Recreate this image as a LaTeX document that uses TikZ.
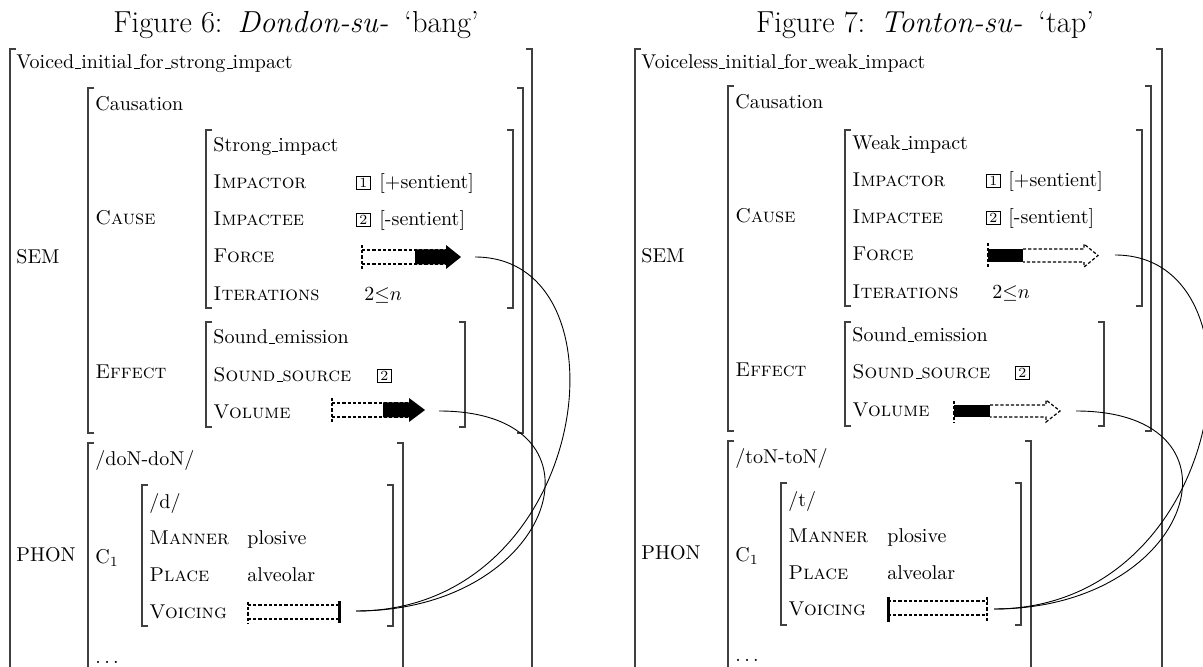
\documentclass[tikz,border=0pt]{standalone}
\newcommand\avmL[3]{\draw[brk] (#1+6,#2) -- (#1,#2) -- (#1,#3) -- (#1+6,#3);}
\newcommand\avmR[3]{\draw[brk] (#1-6,#2) -- (#1,#2) -- (#1,#3) -- (#1-6,#3);}
\newcommand\us{\leavevmode\kern.06em\vbox{\hrule width.3em}}
\newcommand\ttlfont{\fontsize{15.2}{18}\selectfont}
\begin{document}
\begin{tikzpicture}[x=0.5pt,y=-0.5pt,
  txt/.style={anchor=base west,inner sep=0pt,yshift=-3pt},
  ttl/.style={anchor=base,inner sep=0pt,font=\ttlfont},
  brk/.style={line width=0.65pt,draw=black!75},
  num/.style={draw,anchor=west,inner xsep=1.5pt,inner ysep=1pt,font=\scriptsize,line width=0.4pt},
  dsh/.style={dash pattern=on 1.6pt off 1pt,line width=0.6pt},
  bar/.style={line width=1.5pt},
  link/.style={line width=0.45pt}]
\useasboundingbox (0,0) rectangle (1203,667);
\clip (0,0) rectangle (1203,667);

% ================= Figure 6 =================
\node[ttl] (t6) at (296,33) {Figure 6:\hspace{7.5pt}\textit{Dondon-su-\/}\hspace{8pt}‘bang’};
\avmL{10}{49}{690} \avmR{532}{49}{690}
\node[txt] (top6) at (16,63) {Voiced\us initial\us for\us strong\us impact};
\avmL{88}{88}{433} \avmR{523}{88}{433}
\node[txt] (sem6) at (16,258) {SEM};
\node[txt] (caus6) at (95,105) {Causation};
\node[txt] (cause6) at (95,219) {\textsc{Cause}};
\avmL{206}{130}{308} \avmR{513}{130}{308}
\node[txt] (si6) at (213,146) {Strong\us impact};
\node[txt] (ir6) at (213,183) {\textsc{Impactor}};
\node[txt] (ie6) at (213,220) {\textsc{Impactee}};
\node[txt] (fo6) at (213,257) {\textsc{Force}};
\node[txt] (it6) at (213,295) {\textsc{Iterations}};
\node[num] (b16) at (356,183) {1};
\node[txt] (ps6) at (379,183) {[+sentient]};
\node[num] (b26) at (356,220) {2};
\node[txt] (ns6) at (379,220) {[-sentient]};
\node[txt] (n6) at (364,295) {$2{\leq}n$};
% force arrow (strong)
\draw[dsh] (362,245) -- (362,270);
\draw[dsh] (362,250) -- (446,250) (362,264) -- (446,264);
\fill (415,249.5) -- (446,249.5) -- (446,245) -- (461,257) -- (446,269) -- (446,264.5) -- (415,264.5) -- cycle;
\node[txt] (eff6) at (95,373) {\textsc{Effect}};
\avmL{206}{322}{427} \avmR{465}{322}{427}
\node[txt] (se6) at (213,338) {Sound\us emission};
\node[txt] (ss6) at (213,376) {\textsc{Sound\us source}};
\node[num] (b36) at (377,376) {2};
\node[txt] (vo6) at (213,413) {\textsc{Volume}};
% volume arrow (strong)
\draw[dsh] (332,398) -- (332,422);
\draw[dsh] (332,403) -- (409,403) (332,417) -- (409,417);
\fill (383,402.5) -- (409,402.5) -- (409,398) -- (425,410) -- (409,422) -- (409,417.5) -- (383,417.5) -- cycle;
\avmL{88}{443}{690} \avmR{403}{443}{690}
\node[txt] (ph6) at (16,555) {PHON};
\node[txt] (dn6) at (95,460) {/doN-doN/};
\node[txt] (c16) at (95,557) {C$_1$};
\node[txt] (dt6) at (95,657) {$\ldots$};
\avmL{142}{485}{626} \avmR{393}{485}{626}
\node[txt] (d6) at (149,502) {/d/};
\node[txt] (ma6) at (149,538) {\textsc{Manner}};
\node[txt] (pl6) at (149,575) {\textsc{Place}};
\node[txt] (vc6) at (149,612) {\textsc{Voicing}};
\node[txt] (pv6) at (247,538) {plosive};
\node[txt] (al6) at (247,575) {alveolar};
% voicing (voiced)
\draw[dsh] (248,602) -- (248,623);
\draw[dsh] (248,605) -- (339,605) (248,619) -- (339,619);
\draw[bar] (339,601) -- (339,623);
% links
\coordinate (f6) at (475,257);
\coordinate (v6) at (439,411);
\coordinate (p6) at (356,611);
\draw[link] (f6) .. controls +(160,0) and +(235,0) .. (p6);
\draw[link] (v6) .. controls +(180,0) and +(200,0) .. (p6);

% ================= Figure 7 =================
\node[ttl] (t7) at (925,33) {Figure 7:\hspace{7.5pt}\textit{Tonton-su-\/}\hspace{8pt}‘tap’};
\avmL{635}{49}{690} \avmR{1162}{49}{690}
\node[txt] (top7) at (641,63) {Voiceless\us initial\us for\us weak\us impact};
\avmL{728}{86}{431} \avmR{1151}{86}{431}
\node[txt] (sem7) at (641,257) {SEM};
\node[txt] (caus7) at (735,103) {Causation};
\node[txt] (cause7) at (735,217) {\textsc{Cause}};
\avmL{845}{130}{306} \avmR{1142}{130}{306}
\node[txt] (wi7) at (852,144) {Weak\us impact};
\node[txt] (ir7) at (852,181) {\textsc{Impactor}};
\node[txt] (ie7) at (852,218) {\textsc{Impactee}};
\node[txt] (fo7) at (852,255) {\textsc{Force}};
\node[txt] (it7) at (852,293) {\textsc{Iterations}};
\node[num] (b17) at (986,181) {1};
\node[txt] (ps7) at (1008,181) {[+sentient]};
\node[num] (b27) at (986,218) {2};
\node[txt] (ns7) at (1008,218) {[-sentient]};
\node[txt] (n7) at (992,293) {$2{\leq}n$};
% force arrow (weak)
\draw[dsh] (988,243) -- (988,268);
\fill (988,249) rectangle (1023,262);
\draw[dsh] (1023,249) -- (1084,249) -- (1084,244) -- (1098,255.5) -- (1084,267) -- (1084,262) -- (1023,262);
\node[txt] (eff7) at (735,371) {\textsc{Effect}};
\avmL{845}{322}{426} \avmR{1104}{322}{426}
\node[txt] (se7) at (852,336) {Sound\us emission};
\node[txt] (ss7) at (852,373) {\textsc{Sound\us source}};
\node[num] (b37) at (1015,373) {2};
\node[txt] (vo7) at (852,411) {\textsc{Volume}};
% volume arrow (weak)
\draw[dsh] (954,401) -- (954,422);
\fill (954,405) rectangle (990,417);
\draw[dsh] (990,405) -- (1046,405) -- (1046,400) -- (1060,411) -- (1046,422) -- (1046,417) -- (990,417);
\avmL{728}{441}{690} \avmR{1031}{441}{690}
\node[txt] (ph7) at (641,553) {PHON};
\node[txt] (tn7) at (735,458) {/toN-toN/};
\node[txt] (c17) at (735,555) {C$_1$};
\node[txt] (dt7) at (735,655) {$\ldots$};
\avmL{781}{483}{625} \avmR{1021}{483}{625}
\node[txt] (t7s) at (788,500) {/t/};
\node[txt] (ma7) at (788,536) {\textsc{Manner}};
\node[txt] (pl7) at (788,573) {\textsc{Place}};
\node[txt] (vc7) at (788,609) {\textsc{Voicing}};
\node[txt] (pv7) at (887,536) {plosive};
\node[txt] (al7) at (887,573) {alveolar};
% voicing (voiceless)
\draw[bar] (888,597) -- (888,622);
\draw[dsh] (888,601) -- (987,601) (888,615) -- (987,615);
\draw[dsh,line width=1pt] (987,597) -- (987,622);
% links
\coordinate (f7) at (1115,255);
\coordinate (v7) at (1076,411);
\coordinate (p7) at (994,609);
\draw[link] (f7) .. controls +(160,0) and +(235,0) .. (p7);
\draw[link] (v7) .. controls +(180,0) and +(200,0) .. (p7);
\end{tikzpicture}
\end{document}
